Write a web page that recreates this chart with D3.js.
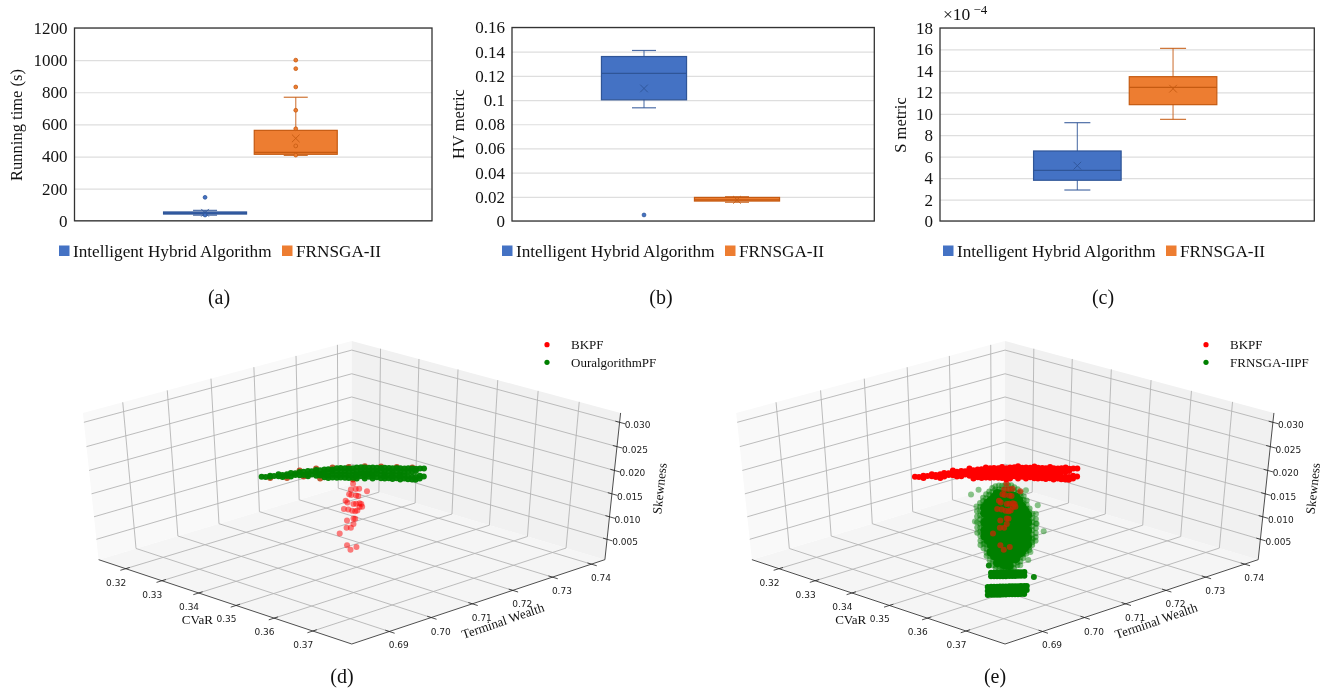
<!DOCTYPE html>
<html>
<head>
<meta charset="utf-8">
<script src="https://cdn.jsdelivr.net/npm/d3@7"></script>
<style>
    html, body { margin: 0; background: #fff; }
    svg { display: block; filter: blur(0.35px); }
</style>
</head>
<body>
<div id="chart"></div>
<script>
const algorithms = ['Intelligent Hybrid Algorithm', 'FRNSGA-II']
const algorithmColors = ['#4472c4', '#ed7d31']
const algorithmEdges = ['#2f5597', '#c55a11']

// each box: low whisker, q1, median, q3, high whisker, mean
const runningBoxes = [[35, 42, 48, 55, 65, 50], [407, 414, 426, 563, 769, 513]]
const runningOutliers = [[146, 36], [1000, 947, 833, 688, 573, 466, 409]]
const runningTicks = [0, 200, 400, 600, 800, 1000, 1200]

const hvBoxes = [[0.0936, 0.1002, 0.122, 0.136, 0.141, 0.1096], [0.0155, 0.0165, 0.0175, 0.0195, 0.0201, 0.0175]]
const hvOutliers = [[0.005], []]
const hvTicks = [0, 0.02, 0.04, 0.06, 0.08, 0.1, 0.12, 0.14, 0.16]

const sBoxes = [[2.89, 3.8, 4.73, 6.53, 9.17, 5.16], [9.48, 10.85, 12.47, 13.46, 16.1, 12.34]]
const sOutliers = [[], []]
const sTicks = [0, 2, 4, 6, 8, 10, 12, 14, 16, 18]

const cvarLimits = [0.3124, 0.3799]
const wealthLimits = [0.6812, 0.7435]
const skewLimits = [0.0004, 0.0319]
const cvarTicks = [0.32, 0.33, 0.34, 0.35, 0.36, 0.37]
const wealthTicks = [0.69, 0.70, 0.71, 0.72, 0.73, 0.74]
const skewTicks = [0.005, 0.010, 0.015, 0.020, 0.025, 0.030]

// depth can't be read off the flat picture, so each cluster sits at one CVaR
const bandCvar = 0.3476
const columnCvar = 0.3630

// the long front near skewness 0.02: wealth, then the skewness values seen there
const bandWealth = [
    0.6903, 0.6912, 0.6922, 0.6931, 0.6941, 0.6950, 0.6960, 0.6969, 0.6979, 0.6989, 0.6998,
    0.7008, 0.7017, 0.7027, 0.7036, 0.7046, 0.7055, 0.7065, 0.7075, 0.7084, 0.7094, 0.7103,
    0.7113, 0.7122, 0.7132, 0.7141, 0.7151, 0.7160, 0.7170, 0.7180, 0.7189, 0.7199, 0.7208,
    0.7218, 0.7227, 0.7237, 0.7246, 0.7256, 0.7265, 0.7275, 0.7285
]
const bandSkew = [
    [0.0249], [0.0246], [0.0246, 0.0244], [0.0243], [0.0244, 0.0240], [0.0240, 0.0236],
    [0.0239, 0.0235], [0.0239, 0.0232], [0.0236, 0.0232], [0.0236, 0.0229], [0.0234, 0.0227],
    [0.0233, 0.0226, 0.0222], [0.0230, 0.0223], [0.0230, 0.0224, 0.0218], [0.0227, 0.0220, 0.0216],
    [0.0226, 0.0220, 0.0215, 0.0210], [0.0224, 0.0218, 0.0211, 0.0206], [0.0221, 0.0217, 0.0210, 0.0204],
    [0.0221, 0.0214, 0.0207, 0.0201], [0.0219, 0.0212, 0.0205, 0.0199], [0.0216, 0.0209, 0.0202, 0.0196],
    [0.0213, 0.0206, 0.0199, 0.0193], [0.0211, 0.0204, 0.0197, 0.0191], [0.0210, 0.0203, 0.0196, 0.0192, 0.0187],
    [0.0208, 0.0201, 0.0195, 0.0189], [0.0205, 0.0198, 0.0192, 0.0187, 0.0182], [0.0202, 0.0195, 0.0189, 0.0183],
    [0.0200, 0.0193, 0.0186, 0.0182, 0.0177], [0.0197, 0.0190, 0.0184, 0.0177], [0.0194, 0.0187, 0.0178, 0.0172],
    [0.0192, 0.0185, 0.0178, 0.0174, 0.0169], [0.0189, 0.0182, 0.0173, 0.0167], [0.0186, 0.0179, 0.0173, 0.0168, 0.0163],
    [0.0184, 0.0177, 0.0168, 0.0162], [0.0181, 0.0174, 0.0167, 0.0163, 0.0157], [0.0178, 0.0171, 0.0162, 0.0156],
    [0.0176, 0.0169, 0.0158, 0.0152], [0.0173, 0.0166, 0.0155, 0.0149], [0.0170, 0.0165, 0.0152, 0.0146],
    [0.0168, 0.0152, 0.0146], [0.0165, 0.0148]
]
// BK points that peek out from under the other algorithm's front
const bandEdge = [
    [0.6989, 0.0239], [0.7027, 0.0233], [0.7065, 0.0225], [0.7103, 0.0216], [0.7141, 0.0208],
    [0.7180, 0.0197], [0.7218, 0.0186], [0.7256, 0.0175], [0.6922, 0.0241], [0.6960, 0.0231],
    [0.6998, 0.0224], [0.7036, 0.0210], [0.7113, 0.0187]
]
const bkColumn = [
    [0.6971, 0.0254], [0.6966, 0.0244], [0.6977, 0.0242], [0.6985, 0.0240], [0.7003, 0.0230],
    [0.6962, 0.0235], [0.6967, 0.0232], [0.6978, 0.0228], [0.6983, 0.0226], [0.6954, 0.0224],
    [0.6958, 0.0219], [0.6986, 0.0210], [0.6972, 0.0212], [0.6978, 0.0211], [0.6990, 0.0207],
    [0.6950, 0.0208], [0.6960, 0.0204], [0.6969, 0.0199], [0.6976, 0.0196], [0.6981, 0.0196],
    [0.6992, 0.0201], [0.6986, 0.0202], [0.6972, 0.0182], [0.6976, 0.0180], [0.6957, 0.0182],
    [0.6972, 0.0170], [0.6956, 0.0167], [0.6966, 0.0164], [0.6940, 0.0159], [0.6957, 0.0129],
    [0.6979, 0.0119], [0.6965, 0.0117]
]

const cloudWealth = [
    0.6904, 0.6911, 0.6918, 0.6925, 0.6932, 0.6939, 0.6946, 0.6954, 0.6961, 0.6968,
    0.6975, 0.6982, 0.6989, 0.6997, 0.7004, 0.7011, 0.7018, 0.7025, 0.7032, 0.7040
]
const cloudSkew = [
    [0.0216, 0.0205, 0.0193, 0.0182, 0.0171],
    [0.0231, 0.0223, 0.0214, 0.0205, 0.0197, 0.0188, 0.0180, 0.0171, 0.0162, 0.0152, 0.0143],
    [0.0240, 0.0233, 0.0225, 0.0216, 0.0209, 0.0201, 0.0193, 0.0184, 0.0176, 0.0168, 0.0160, 0.0151, 0.0143, 0.0134],
    [0.0245, 0.0237, 0.0229, 0.0222, 0.0213, 0.0206, 0.0197, 0.0190, 0.0181, 0.0173, 0.0165, 0.0157, 0.0148, 0.0140, 0.0131, 0.0122, 0.0115],
    [0.0249, 0.0242, 0.0234, 0.0226, 0.0218, 0.0210, 0.0203, 0.0195, 0.0187, 0.0179, 0.0171, 0.0163, 0.0155, 0.0147, 0.0139, 0.0131, 0.0123, 0.0113, 0.0104],
    [0.0254, 0.0246, 0.0238, 0.0231, 0.0223, 0.0215, 0.0206, 0.0199, 0.0191, 0.0183, 0.0175, 0.0167, 0.0159, 0.0151, 0.0143, 0.0135, 0.0127, 0.0118, 0.0109, 0.0099, 0.0091],
    [0.0256, 0.0249, 0.0241, 0.0233, 0.0226, 0.0217, 0.0210, 0.0202, 0.0193, 0.0186, 0.0178, 0.0169, 0.0162, 0.0154, 0.0146, 0.0138, 0.0129, 0.0122, 0.0113, 0.0105, 0.0097, 0.0088, 0.0082],
    [0.0255, 0.0247, 0.0239, 0.0230, 0.0223, 0.0215, 0.0207, 0.0198, 0.0191, 0.0183, 0.0175, 0.0167, 0.0158, 0.0151, 0.0142, 0.0135, 0.0126, 0.0118, 0.0110, 0.0102, 0.0094, 0.0085, 0.0076],
    [0.0253, 0.0245, 0.0236, 0.0229, 0.0220, 0.0212, 0.0205, 0.0196, 0.0188, 0.0181, 0.0172, 0.0164, 0.0156, 0.0148, 0.0140, 0.0131, 0.0124, 0.0115, 0.0107, 0.0099, 0.0090, 0.0081, 0.0072],
    [0.0252, 0.0243, 0.0235, 0.0227, 0.0219, 0.0211, 0.0202, 0.0195, 0.0186, 0.0178, 0.0170, 0.0162, 0.0154, 0.0146, 0.0138, 0.0129, 0.0121, 0.0113, 0.0104, 0.0096, 0.0087, 0.0078, 0.0069],
    [0.0250, 0.0241, 0.0233, 0.0225, 0.0217, 0.0209, 0.0200, 0.0192, 0.0184, 0.0176, 0.0168, 0.0160, 0.0152, 0.0144, 0.0135, 0.0127, 0.0119, 0.0111, 0.0102, 0.0094, 0.0085, 0.0076, 0.0068],
    [0.0248, 0.0239, 0.0231, 0.0223, 0.0215, 0.0206, 0.0198, 0.0190, 0.0182, 0.0174, 0.0165, 0.0158, 0.0149, 0.0141, 0.0133, 0.0125, 0.0116, 0.0108, 0.0100, 0.0092, 0.0083, 0.0075, 0.0067],
    [0.0242, 0.0234, 0.0226, 0.0218, 0.0210, 0.0201, 0.0193, 0.0185, 0.0177, 0.0169, 0.0160, 0.0153, 0.0144, 0.0136, 0.0128, 0.0120, 0.0111, 0.0103, 0.0095, 0.0087, 0.0078, 0.0070],
    [0.0236, 0.0228, 0.0220, 0.0212, 0.0204, 0.0195, 0.0187, 0.0179, 0.0171, 0.0163, 0.0154, 0.0146, 0.0138, 0.0130, 0.0122, 0.0113, 0.0105, 0.0097, 0.0089, 0.0081, 0.0074],
    [0.0227, 0.0219, 0.0211, 0.0203, 0.0195, 0.0187, 0.0178, 0.0170, 0.0162, 0.0154, 0.0146, 0.0138, 0.0129, 0.0121, 0.0113, 0.0105, 0.0097, 0.0089, 0.0081],
    [0.0218, 0.0210, 0.0202, 0.0194, 0.0185, 0.0177, 0.0169, 0.0161, 0.0152, 0.0144, 0.0136, 0.0127, 0.0119, 0.0111, 0.0102, 0.0094, 0.0086],
    [0.0207, 0.0198, 0.0190, 0.0182, 0.0174, 0.0165, 0.0157, 0.0149, 0.0141, 0.0132, 0.0124, 0.0116, 0.0107, 0.0099, 0.0093],
    [0.0188, 0.0180, 0.0172, 0.0163, 0.0155, 0.0147, 0.0138, 0.0130, 0.0122, 0.0113, 0.0105, 0.0099],
    [0.0175, 0.0166, 0.0157, 0.0149, 0.0140, 0.0131, 0.0122, 0.0114, 0.0108],
    [0.0162, 0.0152, 0.0142, 0.0132, 0.0123, 0.0115]
]
// second pass of readings between those columns, the middle of the cloud is solid
const cloudInnerWealth = [0.6921, 0.6928, 0.6935, 0.6943, 0.6950, 0.6957, 0.6964, 0.6971, 0.6978, 0.6986, 0.6993, 0.7000, 0.7007, 0.7014, 0.7021]
const cloudInnerSkew = [
    [0.0219, 0.0207, 0.0188, 0.0171, 0.0159],
    [0.0226, 0.0211, 0.0194, 0.0178, 0.0163, 0.0149],
    [0.0229, 0.0216, 0.0201, 0.0184, 0.0169, 0.0152, 0.0136, 0.0120],
    [0.0234, 0.0219, 0.0203, 0.0187, 0.0172, 0.0155, 0.0140, 0.0125, 0.0110],
    [0.0240, 0.0221, 0.0204, 0.0188, 0.0175, 0.0156, 0.0141, 0.0124, 0.0110, 0.0093],
    [0.0237, 0.0222, 0.0206, 0.0190, 0.0173, 0.0158, 0.0142, 0.0126, 0.0109, 0.0095],
    [0.0232, 0.0217, 0.0199, 0.0183, 0.0166, 0.0149, 0.0133, 0.0117, 0.0100, 0.0085],
    [0.0230, 0.0215, 0.0197, 0.0181, 0.0164, 0.0147, 0.0131, 0.0114, 0.0098, 0.0082],
    [0.0228, 0.0213, 0.0193, 0.0179, 0.0161, 0.0145, 0.0128, 0.0112, 0.0095, 0.0079],
    [0.0225, 0.0209, 0.0191, 0.0175, 0.0158, 0.0142, 0.0125, 0.0109, 0.0092],
    [0.0221, 0.0205, 0.0187, 0.0173, 0.0155, 0.0139, 0.0122, 0.0106, 0.0089],
    [0.0212, 0.0196, 0.0180, 0.0164, 0.0147, 0.0131, 0.0115, 0.0098],
    [0.0198, 0.0183, 0.0166, 0.0149, 0.0134, 0.0117, 0.0100],
    [0.0187, 0.0171, 0.0154, 0.0138, 0.0121, 0.0107],
    [0.0176, 0.0160, 0.0143, 0.0127, 0.0112]
]
const cloudStrays = [
    [0.6891, 0.0254], [0.7059, 0.0130], [0.7044, 0.0190], [0.7040, 0.0173], [0.7042, 0.0151],
    [0.7033, 0.0120], [0.7016, 0.0229], [0.6908, 0.0259], [0.6903, 0.0226], [0.6899, 0.0196],
    [0.6920, 0.0144], [0.6937, 0.0120], [0.7028, 0.0094], [0.7023, 0.0078], [0.7004, 0.0072]
]

// the two solid clusters at the foot of the FRNSGA-II front
const footWealth = [
    0.6927, 0.6935, 0.6942, 0.6949, 0.6956, 0.6963, 0.6970, 0.6978, 0.6985, 0.6992, 0.6999,
    0.7006, 0.7014, 0.7020
]
const footSkew = [
    [0.0047, 0.0038, 0.0029],
    [0.0076, 0.0068, 0.0045, 0.0036, 0.0027],
    [0.0074, 0.0066, 0.0043, 0.0034, 0.0025],
    [0.0072, 0.0064, 0.0041, 0.0032, 0.0023],
    [0.0070, 0.0062, 0.0039, 0.0030, 0.0021],
    [0.0068, 0.0060, 0.0037, 0.0028, 0.0019],
    [0.0066, 0.0058, 0.0035, 0.0026, 0.0017],
    [0.0064, 0.0056, 0.0033, 0.0024, 0.0015],
    [0.0062, 0.0054, 0.0031, 0.0022, 0.0013],
    [0.0060, 0.0052, 0.0029, 0.0020, 0.0011],
    [0.0058, 0.0050, 0.0027, 0.0018, 0.0009],
    [0.0056, 0.0048, 0.0025, 0.0016, 0.0007],
    [0.0054, 0.0046, 0.0023, 0.0014, 0.0005],
    [0.0021, 0.0012]
]
const footStrays = [[0.6930, 0.0093], [0.7037, 0.0036]]

const serif = '"Liberation Serif", "Times New Roman", serif'
const red = '#ff0000'
const green = '#008000'

const svg = d3.select('#chart').append('svg')
    .attr('width', 1332)
    .attr('height', 692)

function flatten(wealth, skew) {
    return wealth.flatMap((w, i) => skew[i].map(s => [w, s]))
}

function boxPanel(cfg) {
    const inner = cfg.bottom - cfg.top
    const y = d3.scaleLinear().domain(cfg.domain).range([cfg.bottom, cfg.top])
    const x = d3.scaleBand().domain(algorithms)
        .range([cfg.center - cfg.step, cfg.center + cfg.step])

    const g = svg.append('g')

    const grid = g.append('g')
        .attr('transform', `translate(${cfg.left},0)`)
        .call(d3.axisLeft(y).tickValues(cfg.ticks).tickSize(-(cfg.right - cfg.left)).tickFormat(''))
    grid.select('.domain').remove()
    grid.selectAll('line').attr('stroke', '#dedede').attr('stroke-width', 1.2)

    const axis = g.append('g')
        .attr('transform', `translate(${cfg.left},0)`)
        .call(d3.axisLeft(y).tickValues(cfg.ticks).tickSize(0).tickPadding(7).tickFormat(d => String(d)))
    axis.select('.domain').remove()
    axis.selectAll('text')
        .attr('font-family', serif)
        .attr('font-size', 17)
        .attr('fill', '#111')

    algorithms.forEach((name, i) => {
        const [lo, q1, med, q3, hi, mean] = cfg.boxes[i]
        const cx = x(name) + x.bandwidth() / 2
        const w = x.bandwidth() * 0.915
        const box = g.append('g')
            .attr('stroke', algorithmEdges[i])
            .attr('fill', 'none')

        box.append('line').attr('x1', cx).attr('x2', cx).attr('y1', y(hi)).attr('y2', y(lo))
            .attr('stroke-opacity', 0.75).attr('stroke-width', 1.2)
        ;[lo, hi].forEach(v => {
            box.append('line')
                .attr('x1', cx - cfg.cap).attr('x2', cx + cfg.cap)
                .attr('y1', y(v)).attr('y2', y(v))
                .attr('stroke-width', 1.2)
                .attr('stroke-opacity', 0.85)
        })
        box.append('rect')
            .attr('x', cx - w / 2).attr('width', w)
            .attr('y', y(q3)).attr('height', y(q1) - y(q3))
            .attr('fill', algorithmColors[i])
            .attr('stroke-width', 1.2)
        box.append('line')
            .attr('x1', cx - w / 2).attr('x2', cx + w / 2)
            .attr('y1', y(med)).attr('y2', y(med))
            .attr('stroke-width', 1.2)
        box.append('path')
            .attr('transform', `translate(${cx},${y(mean)})`)
            .attr('d', d3.symbol(d3.symbolX, 40))
            .attr('stroke-width', 0.9)

        box.selectAll('circle')
            .data(cfg.outliers[i])
            .enter().append('circle')
            .attr('cx', cx)
            .attr('cy', d => y(d))
            .attr('r', 1.9)
            .attr('fill', algorithmColors[i])
            .attr('stroke', algorithmEdges[i])
            .attr('stroke-width', 0.8)
    })

    g.append('rect')
        .attr('x', cfg.left).attr('y', cfg.top)
        .attr('width', cfg.right - cfg.left).attr('height', inner)
        .attr('fill', 'none')
        .attr('stroke', '#333')
        .attr('stroke-width', 1.3)

    g.append('text')
        .attr('transform', `translate(${cfg.labelX},${cfg.labelY}) rotate(-90)`)
        .attr('text-anchor', 'middle')
        .attr('font-family', serif)
        .attr('font-size', 16.5)
        .attr('fill', '#111')
        .text(cfg.label)

    algorithms.forEach((name, i) => {
        g.append('rect')
            .attr('x', cfg.legend[i]).attr('y', 245.5)
            .attr('width', 10.5).attr('height', 10.5)
            .attr('fill', algorithmColors[i])
        g.append('text')
            .attr('x', cfg.legend[i] + 14).attr('y', 257)
            .attr('font-family', serif)
            .attr('font-size', 17.2)
            .attr('fill', '#111')
            .text(name)
    })

    caption(cfg.caption, cfg.captionX, 304)
}

function caption(text, x, y) {
    svg.append('text')
        .attr('x', x).attr('y', y)
        .attr('text-anchor', 'middle')
        .attr('font-family', serif)
        .attr('font-size', 20)
        .attr('fill', '#111')
        .text(text)
}

boxPanel({
    left: 74.5, right: 432, top: 28, bottom: 220.8, center: 250.4, step: 90.7, cap: 12,
    domain: [0, 1200], ticks: runningTicks, boxes: runningBoxes, outliers: runningOutliers,
    label: 'Running time (s)', labelX: 22, labelY: 125, legend: [59, 282],
    caption: '(a)', captionX: 219
})
boxPanel({
    left: 512, right: 874.3, top: 27.5, bottom: 221, center: 690.5, step: 93, cap: 12,
    domain: [0, 0.16], ticks: hvTicks, boxes: hvBoxes, outliers: hvOutliers,
    label: 'HV metric', labelX: 464, labelY: 124, legend: [502, 725],
    caption: '(b)', captionX: 661
})
boxPanel({
    left: 940, right: 1314.3, top: 28, bottom: 221, center: 1125.2, step: 95.7, cap: 13,
    domain: [0, 18], ticks: sTicks, boxes: sBoxes, outliers: sOutliers,
    label: 'S metric', labelX: 906, labelY: 125, legend: [943, 1166],
    caption: '(c)', captionX: 1103
})

svg.append('text')
    .attr('x', 943).attr('y', 20)
    .attr('font-family', serif)
    .attr('font-size', 17.5)
    .attr('fill', '#111')
    .text('×10')
    .append('tspan')
    .attr('dx', 3)
    .attr('dy', -6)
    .attr('font-size', 13)
    .text('−4')

// same camera maths as matplotlib's mplot3d, on the unit cube
const elev = 37 * Math.PI / 180
const azim = -45 * Math.PI / 180
const dist = 10
const camW = [Math.cos(elev) * Math.cos(azim), Math.cos(elev) * Math.sin(azim), Math.sin(elev)]
const camU = [-Math.sin(azim), Math.cos(azim), 0]
const camV = [
    camW[1] * camU[2] - camW[2] * camU[1],
    camW[2] * camU[0] - camW[0] * camU[2],
    camW[0] * camU[1] - camW[1] * camU[0]
]

function rawProject(t) {
    const p = t.map(c => c - 0.5)
    const depth = dist - d3.sum(p, (c, i) => c * camW[i])
    return [
        d3.sum(p, (c, i) => c * camU[i]) / depth,
        d3.sum(p, (c, i) => c * camV[i]) / depth
    ]
}

const screenX = d3.scaleLinear()
    .domain([rawProject([0, 0, 0])[0], rawProject([1, 1, 0])[0]])
    .range([98.6, 604.9])
const screenY = d3.scaleLinear()
    .domain([rawProject([1, 0, 0])[1], rawProject([0, 1, 1])[1]])
    .range([644, 341])

function unitToScreen(t) {
    const raw = rawProject(t)
    return [screenX(raw[0]), screenY(raw[1])]
}

const cvarUnit = d3.scaleLinear().domain(cvarLimits).range([0, 1])
const wealthUnit = d3.scaleLinear().domain(wealthLimits).range([0, 1])
const skewUnit = d3.scaleLinear().domain(skewLimits).range([0, 1])

function scatterPanel(cfg) {
    const g = svg.append('g').attr('transform', `translate(${cfg.shift},0)`)
    const path = d3.line().x(d => unitToScreen(d)[0]).y(d => unitToScreen(d)[1])

    const panes = [
        { fill: '#f5f5f5', corners: [[0, 0, 0], [1, 0, 0], [1, 1, 0], [0, 1, 0]] },
        { fill: '#f9f9f9', corners: [[0, 0, 0], [0, 1, 0], [0, 1, 1], [0, 0, 1]] },
        { fill: '#f1f1f1', corners: [[0, 1, 0], [1, 1, 0], [1, 1, 1], [0, 1, 1]] }
    ]
    g.selectAll('.pane')
        .data(panes)
        .enter().append('path')
        .attr('class', 'pane')
        .attr('d', d => path(d.corners) + 'Z')
        .attr('fill', d => d.fill)

    const gridLines = [
        ...cvarTicks.map(v => [[cvarUnit(v), 0, 0], [cvarUnit(v), 1, 0], [cvarUnit(v), 1, 1]]),
        ...wealthTicks.map(v => [[1, wealthUnit(v), 0], [0, wealthUnit(v), 0], [0, wealthUnit(v), 1]]),
        ...skewTicks.map(v => [[0, 0, skewUnit(v)], [0, 1, skewUnit(v)], [1, 1, skewUnit(v)]])
    ]
    g.selectAll('.grid3d')
        .data(gridLines)
        .enter().append('path')
        .attr('class', 'grid3d')
        .attr('d', path)
        .attr('fill', 'none')
        .attr('stroke', '#b4b4b4')
        .attr('stroke-width', 0.9)

    const edges = [
        [[0, 0, 0], [1, 0, 0]],
        [[1, 0, 0], [1, 1, 0]],
        [[1, 1, 0], [1, 1, 1]],
        ...cvarTicks.map(v => [[cvarUnit(v), -0.02, 0], [cvarUnit(v), 0.015, 0]]),
        ...wealthTicks.map(v => [[1.02, wealthUnit(v), 0], [0.985, wealthUnit(v), 0]]),
        ...skewTicks.map(v => [[1.02, 1, skewUnit(v)], [0.985, 1, skewUnit(v)]])
    ]
    g.selectAll('.edge3d')
        .data(edges)
        .enter().append('path')
        .attr('class', 'edge3d')
        .attr('d', path)
        .attr('fill', 'none')
        .attr('stroke', '#222')
        .attr('stroke-width', 0.8)

    const tickLabels = [
        ...cvarTicks.map(v => ({ at: [cvarUnit(v), 0, 0], dx: -9.6, dy: 17, text: v.toFixed(2) })),
        ...wealthTicks.map(v => ({ at: [1, wealthUnit(v), 0], dx: 9.5, dy: 17, text: v.toFixed(2) })),
        ...skewTicks.map(v => ({ at: [1, 1, skewUnit(v)], dx: 18, dy: 6, text: v.toFixed(3) }))
    ]
    g.selectAll('.tick3d')
        .data(tickLabels)
        .enter().append('text')
        .attr('class', 'tick3d')
        .attr('x', d => unitToScreen(d.at)[0] + d.dx)
        .attr('y', d => unitToScreen(d.at)[1] + d.dy)
        .attr('text-anchor', 'middle')
        .attr('font-family', '"DejaVu Sans", sans-serif')
        .attr('font-size', 9)
        .attr('fill', '#222')
        .text(d => d.text)

    const axisTitles = [
        { text: 'CVaR', x: 197.4, y: 624, angle: 0 },
        { text: 'Terminal Wealth', x: 504.3, y: 625, angle: -19 },
        { text: 'Skewness', x: 664, y: 489, angle: -84 }
    ]
    g.selectAll('.title3d')
        .data(axisTitles)
        .enter().append('text')
        .attr('class', 'title3d')
        .attr('transform', d => `translate(${d.x},${d.y}) rotate(${d.angle})`)
        .attr('text-anchor', 'middle')
        .attr('font-family', serif)
        .attr('font-size', 13)
        .attr('fill', '#111')
        .text(d => d.text)

    cfg.layers.forEach(layer => {
        g.append('g').selectAll('circle')
            .data(layer.points)
            .enter().append('circle')
            .attr('cx', d => unitToScreen([cvarUnit(layer.cvar), wealthUnit(d[0]), skewUnit(d[1])])[0])
            .attr('cy', d => unitToScreen([cvarUnit(layer.cvar), wealthUnit(d[0]), skewUnit(d[1])])[1])
            .attr('r', layer.radius || 3)
            .attr('fill', layer.color)
            .attr('fill-opacity', layer.opacity)
    })

    g.selectAll('.legend3d')
        .data(cfg.legend)
        .enter().append('circle')
        .attr('class', 'legend3d')
        .attr('cx', cfg.legendX)
        .attr('cy', (d, i) => 344.7 + i * 17.6)
        .attr('r', 2.6)
        .attr('fill', d => d.color)
    g.selectAll('.legendtext')
        .data(cfg.legend)
        .enter().append('text')
        .attr('class', 'legendtext')
        .attr('x', cfg.legendX + 24)
        .attr('y', (d, i) => 349 + i * 17.6)
        .attr('font-family', serif)
        .attr('font-size', 13)
        .attr('fill', '#111')
        .text(d => d.name)
}

const frontPoints = flatten(bandWealth, bandSkew)

scatterPanel({
    shift: 0,
    legendX: 547,
    legend: [{ name: 'BKPF', color: red }, { name: 'OuralgorithmPF', color: green }],
    layers: [
        { points: bandEdge, cvar: bandCvar, color: '#b03000', opacity: 0.8 },
        { points: bkColumn, cvar: columnCvar, color: red, opacity: 0.5 },
        { points: frontPoints, cvar: bandCvar, color: green, opacity: 0.97 }
    ]
})

scatterPanel({
    shift: 653.3,
    legendX: 552.7,
    legend: [{ name: 'BKPF', color: red }, { name: 'FRNSGA-IIPF', color: green }],
    layers: [
        { points: flatten(cloudWealth, cloudSkew), cvar: columnCvar, color: green, opacity: 0.5 },
        { points: cloudStrays, cvar: columnCvar, color: green, opacity: 0.45 },
        { points: flatten(cloudInnerWealth, cloudInnerSkew), cvar: columnCvar, color: green, opacity: 1, radius: 4.4 },
        { points: flatten(footWealth, footSkew), cvar: columnCvar, color: green, opacity: 1 },
        { points: footStrays, cvar: columnCvar, color: green, opacity: 0.95 },
        { points: bkColumn, cvar: columnCvar, color: '#c62a00', opacity: 0.75 },
        { points: frontPoints, cvar: bandCvar, color: red, opacity: 1 },
        { points: bandEdge, cvar: bandCvar, color: red, opacity: 1 }
    ]
})

caption('(d)', 342, 683)
caption('(e)', 995, 683)
</script>
</body>
</html>
